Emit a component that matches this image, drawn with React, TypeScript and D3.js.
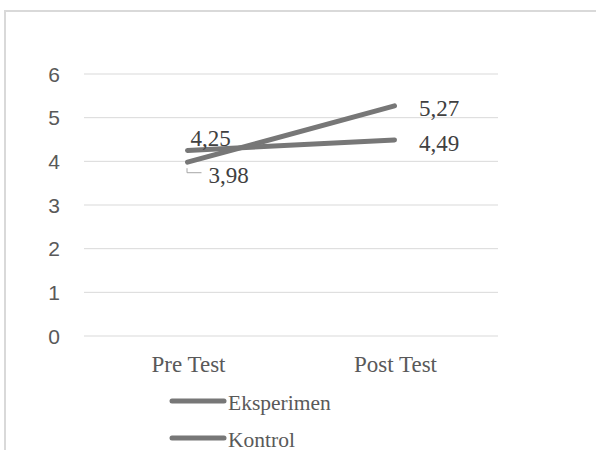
import React from "react";
import * as d3 from "d3";

const categories = ["Pre Test", "Post Test"];
const seriesNames = ["Eksperimen", "Kontrol"];
const eksperimen = [3.98, 5.27];
const kontrol = [4.25, 4.49];
const yTicks = [0, 1, 2, 3, 4, 5, 6];

const W = 596;
const H = 450;
const LINE = "#777777";
const GRID = "#d9d9d9";
const fmt = d3.formatLocale({ decimal: ",", thousands: ".", grouping: [3], currency: ["", ""] }).format(".2f");

export default function App() {
  const x = d3.scalePoint<string>().domain(categories).range([84, 498]).padding(0.5);
  const y = d3.scaleLinear().domain([0, 6]).range([336, 74]);
  const line = d3
    .line<number>()
    .x((_, i) => x(categories[i]) as number)
    .y((d) => y(d));
  const serif = "'Liberation Serif', 'Times New Roman', serif";
  const sans = "'Liberation Sans', Arial, sans-serif";
  const series = [eksperimen, kontrol];

  const px0 = x(categories[0]) as number;
  const px1 = x(categories[1]) as number;

  return (
    <svg width={W} height={H} style={{ position: "absolute", left: 0, top: 0, background: "#fff" }}>
      <rect x={5} y={11} width={W + 20} height={H + 20} fill="#fff" stroke={GRID} strokeWidth={2} />
      {yTicks.map((t) => (
        <g key={t}>
          <line x1={84} x2={498} y1={y(t)} y2={y(t)} stroke={GRID} strokeWidth={1} />
          <text x={60} y={y(t)} dy="0.36em" textAnchor="end" fontFamily={sans} fontSize={21} fill="#595959">
            {t}
          </text>
        </g>
      ))}
      {categories.map((c) => (
        <text key={c} x={(x(c) as number) + 1} y={372} textAnchor="middle" fontFamily={serif} fontSize={23} fill="#595959">
          {c}
        </text>
      ))}
      {series.map((s, i) => (
        <path key={i} d={line(s) as string} fill="none" stroke={LINE} strokeWidth={5} strokeLinecap="round" />
      ))}
      {/* data labels */}
      <text x={px0 + 3} y={y(kontrol[0]) - 4} fontFamily={serif} fontSize={23} fill="#404040">
        {fmt(kontrol[0])}
      </text>
      <path d={`M${px0 - 0.5},${y(eksperimen[0]) + 6}V${y(eksperimen[0]) + 10.5}H${px0 + 14}`} fill="none" stroke="#a6a6a6" strokeWidth={1} />
      <text x={px0 + 21} y={y(eksperimen[0]) + 20.5} fontFamily={serif} fontSize={23} fill="#404040">
        {fmt(eksperimen[0])}
      </text>
      <text x={px1 + 24.5} y={y(eksperimen[1]) + 10} fontFamily={serif} fontSize={23} fill="#404040">
        {fmt(eksperimen[1])}
      </text>
      <text x={px1 + 24.5} y={y(kontrol[1]) + 11} fontFamily={serif} fontSize={23} fill="#404040">
        {fmt(kontrol[1])}
      </text>
      {/* legend */}
      {seriesNames.map((n, i) => {
        const ly = 401 + i * 37;
        return (
          <g key={n}>
            <line x1={172} x2={224} y1={ly} y2={ly} stroke={LINE} strokeWidth={5} strokeLinecap="round" />
            <text x={228} y={ly + 8.5} fontFamily={serif} fontSize={21.5} fill="#595959">
              {n}
            </text>
          </g>
        );
      })}
    </svg>
  );
}
